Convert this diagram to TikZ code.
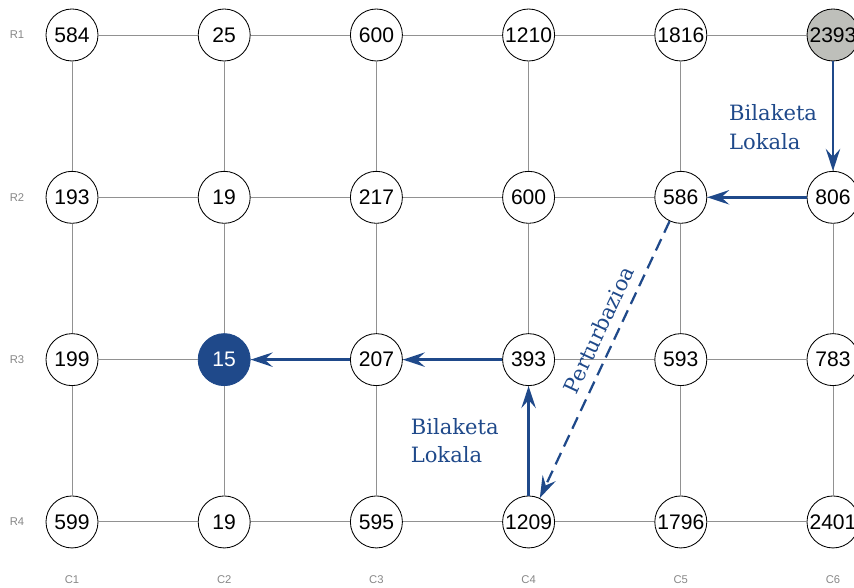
\documentclass[tikz,border=0pt]{standalone}
\usepackage{fontspec}
\setmainfont{Liberation Sans}
\newfontfamily\labelfont{DejaVu Serif}
\usetikzlibrary{arrows.meta}

\definecolor{pathblue}{RGB}{31,73,138}
\definecolor{startgray}{RGB}{190,191,186}
\definecolor{gridgray}{RGB}{145,145,145}
\definecolor{axisgray}{RGB}{135,135,135}

\tikzset{
  cell/.style={circle, draw=black, line width=0.6pt, fill=white, inner sep=0pt,
    minimum size=1.3cm, font=\fontsize{15}{18}\selectfont},
  c16/.style={fill=startgray},
  c32/.style={fill=pathblue, draw=pathblue, text=white},
  gridline/.style={draw=gridgray, line width=0.7pt},
  axislabel/.style={text=axisgray, font=\fontsize{8}{9}\selectfont},
  searchstep/.style={draw=pathblue, line width=1.8pt,
    -{Stealth[length=5.5mm, width=3.6mm, inset=2mm]}},
  kick/.style={searchstep, line width=1.6pt, dash pattern=on 9pt off 5pt},
  lbl/.style={text=pathblue, align=left, font=\labelfont\fontsize{15}{20}\selectfont}
}

\begin{document}
\begin{tikzpicture}[x=3.805cm, y=-4.058cm]
  \useasboundingbox (-1.8cm,0.875cm) rectangle (19.55cm,-13.825cm);

  \foreach \row [count=\r] in {{584,25,600,1210,1816,2393},
                                {193,19,217,600,586,806},
                                {199,15,207,393,593,783},
                                {599,19,595,1209,1796,2401}}
    \foreach \v [count=\c] in \row
      \node[cell, c\r\c/.try] (n\r\c) at (\c-1,\r-1) {\v};

  % grid between neighbouring cells
  \foreach \r in {1,2,3,4}
    \foreach \a/\b in {1/2,2/3,3/4,4/5,5/6}
      \draw[gridline] (n\r\a) -- (n\r\b);
  \foreach \k in {1,2,3,4,5,6}
    \foreach \a/\b in {1/2,2/3,3/4}
      \draw[gridline] (n\a\k) -- (n\b\k);

  \foreach \r in {1,2,3,4}
    \node[axislabel] (row\r) at ([xshift=-1.375cm] n\r1.center) {R\r};
  \foreach \k in {1,2,3,4,5,6}
    \node[axislabel] (col\k) at ([yshift=-1.45cm] n4\k.center) {C\k};

  \draw[searchstep] (n16) -- (n26)
    node[pos=0.6, left=2.5mm, lbl] {Bilaketa\\Lokala};
  \draw[searchstep] (n26) -- (n25);
  \draw[kick] (n25) -- (n44)
    node[pos=0.42, sloped, above=1mm, lbl] {Perturbazioa};
  \draw[searchstep] (n44) -- (n34)
    node[midway, left=6mm, lbl] {Bilaketa\\Lokala};
  \draw[searchstep] (n34) -- (n33);
  \draw[searchstep] (n33) -- (n32);
\end{tikzpicture}
\end{document}
